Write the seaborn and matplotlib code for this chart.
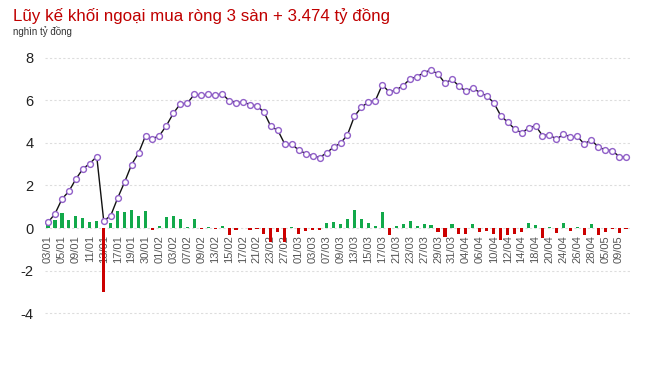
import numpy as np
import pandas as pd
import matplotlib
matplotlib.use("Agg")
import matplotlib.pyplot as plt
import seaborn as sns

dates = ["03/01", "04/01", "05/01", "06/01", "09/01", "10/01", "11/01", "12/01", "13/01", "16/01",
         "17/01", "18/01", "19/01", "20/01", "30/01", "31/01", "01/02", "02/02", "03/02", "06/02",
         "07/02", "08/02", "09/02", "10/02", "13/02", "14/02", "15/02", "16/02", "17/02", "20/02",
         "21/02", "22/02", "23/02", "24/02", "27/02", "28/02", "01/03", "02/03", "03/03", "06/03",
         "07/03", "08/03", "09/03", "10/03", "13/03", "14/03", "15/03", "16/03", "17/03", "20/03",
         "21/03", "22/03", "23/03", "24/03", "27/03", "28/03", "29/03", "30/03", "31/03", "03/04",
         "04/04", "05/04", "06/04", "07/04", "10/04", "11/04", "12/04", "13/04", "14/04", "17/04",
         "18/04", "19/04", "20/04", "21/04", "24/04", "25/04", "26/04", "27/04", "28/04", "04/05",
         "05/05", "08/05", "09/05", "10/05"]

daily_net = [0.16, 0.39, 0.70, 0.36, 0.55, 0.47, 0.27, 0.33, -3.00, 0.23,
             0.80, 0.75, 0.84, 0.56, 0.78, -0.08, 0.12, 0.50, 0.58, 0.41,
             0.06, 0.42, -0.04, 0.05, -0.03, 0.08, -0.33, -0.08, 0.02, -0.10,
             -0.05, -0.28, -0.66, -0.18, -0.65, 0.03, -0.28, -0.12, -0.10, -0.08,
             0.23, 0.28, 0.20, 0.44, 0.86, 0.42, 0.25, 0.08, 0.75, -0.31,
             0.12, 0.20, 0.34, 0.11, 0.19, 0.16, -0.20, -0.41, 0.20, -0.27,
             -0.27, 0.20, -0.20, -0.15, -0.28, -0.58, -0.30, -0.28, -0.17, 0.22,
             0.16, -0.47, 0.05, -0.22, 0.25, -0.12, 0.04, -0.31, 0.19, -0.30,
             -0.17, -0.02, -0.23, -0.06]

cumulative = [0.27, 0.67, 1.36, 1.73, 2.30, 2.78, 3.03, 3.36, 0.34, 0.58,
              1.41, 2.16, 2.98, 3.52, 4.33, 4.19, 4.34, 4.81, 5.39, 5.83,
              5.86, 6.27, 6.23, 6.28, 6.23, 6.31, 5.98, 5.89, 5.91, 5.80,
              5.73, 5.45, 4.77, 4.59, 3.94, 3.94, 3.66, 3.50, 3.39, 3.31,
              3.53, 3.80, 3.98, 4.38, 5.25, 5.67, 5.92, 5.98, 6.73, 6.38,
              6.48, 6.69, 7.00, 7.11, 7.30, 7.42, 7.23, 6.80, 6.98, 6.67,
              6.42, 6.58, 6.36, 6.20, 5.89, 5.28, 4.97, 4.66, 4.47, 4.69,
              4.81, 4.34, 4.39, 4.16, 4.41, 4.28, 4.30, 3.95, 4.14, 3.81,
              3.67, 3.64, 3.36, 3.34]

y_ticks = [-4, -2, 0, 2, 4, 6, 8]

title = "Lũy kế khối ngoại mua ròng 3 sàn + 3.474 tỷ đồng"
subtitle = "nghìn tỷ đồng"

GREEN = "#12a94a"
RED = "#cc0000"

df = pd.DataFrame({
    "pos": np.arange(len(dates)),
    "date": dates,
    "net": daily_net,
    "cum": cumulative,
})
df["sign"] = np.where(df["net"] >= 0, "pos", "neg")

sns.set_theme(style="white")
plt.rcParams["font.family"] = ["Liberation Sans", "DejaVu Sans"]

fig = plt.figure(figsize=(6.5, 3.66), dpi=100)
ax = fig.add_axes([0.0685, 0.074, 0.9, 0.786])
ax.set_axisbelow(True)

sns.barplot(data=df, x="pos", y="net", hue="sign", palette={"pos": GREEN, "neg": RED},
            dodge=False, width=0.45, legend=False, ax=ax, saturation=1, linewidth=0)

sns.lineplot(data=df, x="pos", y="cum", ax=ax, color="#111111", linewidth=1.0,
             marker="o", markersize=4.2, markerfacecolor="white",
             markeredgecolor="#9060c8", markeredgewidth=1.0, zorder=3)

for s in ax.spines.values():
    s.set_visible(False)
ax.spines["bottom"].set_position(("data", 0))

ax.set_xlim(-0.5, len(dates) - 0.5)
ax.set_ylim(-5.2, 8.3)
ax.set_yticks(y_ticks)
ax.set_yticklabels([str(v) for v in y_ticks])
ax.set_xticks(df["pos"][::2])
ax.set_xticklabels(df["date"][::2], rotation=90, va="top", ha="center")

ax.grid(axis="y", color="#dddddd", linestyle=(0, (2, 2)), linewidth=0.8)
ax.grid(axis="x", visible=False)

ax.tick_params(axis="x", length=0, pad=5, labelsize=8, labelcolor="#555555")
ax.tick_params(axis="y", length=0, pad=8, labelsize=10.5, labelcolor="#222222")
ax.set_xlabel("")
ax.set_ylabel("")

fig.text(13 / 650, 1 - 21 / 366, title, fontsize=12.2, color="#c00000",
         ha="left", va="baseline")
fig.text(13 / 650, 1 - 35 / 366, subtitle, fontsize=7.0, color="#333333",
         ha="left", va="baseline")

fig.savefig("out.png", dpi=100)
